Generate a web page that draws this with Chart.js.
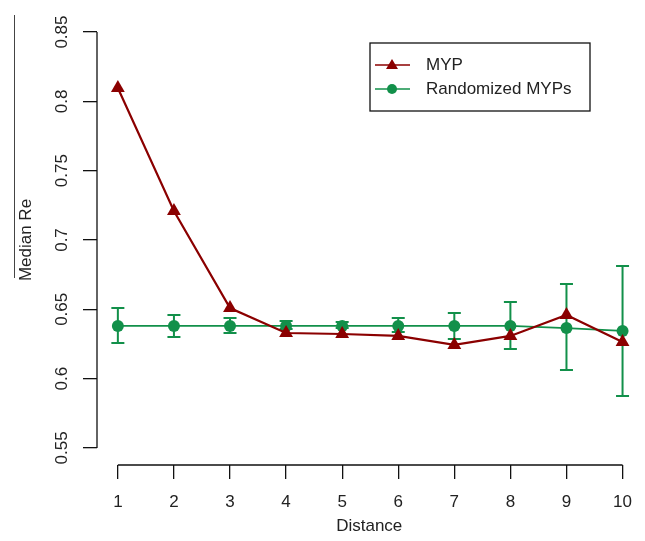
<!DOCTYPE html>
<html>
<head>
<meta charset="utf-8">
<script src="https://cdn.jsdelivr.net/npm/chart.js@4"></script>
<style>
  body { margin: 0; background: #fff; }
  #wrap { width: 645px; height: 541px; }
</style>
</head>
<body>
<div id="wrap"><canvas id="lineChart"></canvas></div>
<script>
const distances = [1, 2, 3, 4, 5, 6, 7, 8, 9, 10];
const yTicks = [0.55, 0.6, 0.65, 0.7, 0.75, 0.8, 0.85];
const yTickLabels = ['0.55', '0.6', '0.65', '0.7', '0.75', '0.8', '0.85'];

const mypValues = [0.8096, 0.7209, 0.6509, 0.6329, 0.6322, 0.6308, 0.6243, 0.6308, 0.6459, 0.6264];
const randValues = [0.638, 0.638, 0.638, 0.638, 0.638, 0.638, 0.638, 0.638, 0.6365, 0.6344];
const randLow = [0.6257, 0.630, 0.6329, 0.6358, 0.6365, 0.6337, 0.6286, 0.6214, 0.6062, 0.5875];
const randHigh = [0.651, 0.6459, 0.6437, 0.6416, 0.6408, 0.6437, 0.6473, 0.6553, 0.6682, 0.6812];

const red = '#8b0000';
const green = '#12904a';
const font = '"Liberation Sans", Arial, sans-serif';

// error bars for the randomized series
const errorBars = {
    id: 'errorBars',
    beforeDatasetsDraw(chart) {
        const { ctx, scales: { x, y } } = chart;
        ctx.save();
        ctx.strokeStyle = green;
        ctx.lineWidth = 2;
        distances.forEach((d, i) => {
            const px = x.getPixelForValue(d);
            const top = y.getPixelForValue(randHigh[i]);
            const bot = y.getPixelForValue(randLow[i]);
            ctx.beginPath();
            ctx.moveTo(px, top); ctx.lineTo(px, bot);
            ctx.moveTo(px - 6.5, top); ctx.lineTo(px + 6.5, top);
            ctx.moveTo(px - 6.5, bot); ctx.lineTo(px + 6.5, bot);
            ctx.stroke();
        });
        ctx.restore();
    }
};

// R style axes, rotated y labels, y title and legend box
const rStyle = {
    id: 'rStyle',
    afterDraw(chart) {
        const { ctx, scales: { x, y }, chartArea } = chart;
        ctx.save();
        ctx.strokeStyle = '#111';
        ctx.lineWidth = 1.3;
        ctx.beginPath();
        ctx.moveTo(chartArea.left, y.getPixelForValue(yTicks[0]));
        ctx.lineTo(chartArea.left, y.getPixelForValue(yTicks[yTicks.length - 1]));
        ctx.moveTo(x.getPixelForValue(distances[0]), chartArea.bottom);
        ctx.lineTo(x.getPixelForValue(distances[distances.length - 1]), chartArea.bottom);
        ctx.stroke();

        ctx.fillStyle = '#222';
        ctx.font = '17px ' + font;
        ctx.textAlign = 'center';
        ctx.textBaseline = 'middle';
        yTicks.forEach((v, i) => {
            ctx.save();
            ctx.translate(62, y.getPixelForValue(v));
            ctx.rotate(-Math.PI / 2);
            ctx.fillText(yTickLabels[i], 0, 0);
            ctx.restore();
        });

        // y title with its overline
        ctx.save();
        ctx.translate(26, (chartArea.top + chartArea.bottom) / 2);
        ctx.rotate(-Math.PI / 2);
        ctx.fillText('Median Re', 0, 0);
        ctx.restore();
        ctx.strokeStyle = '#444';
        ctx.lineWidth = 1;
        ctx.beginPath();
        ctx.moveTo(14.5, 15);
        ctx.lineTo(14.5, 278);
        ctx.stroke();

        // legend
        const lx = 370, ly = 43, lw = 220, lh = 68;
        ctx.strokeStyle = '#111';
        ctx.lineWidth = 1.3;
        ctx.strokeRect(lx, ly, lw, lh);
        const rows = [
            { ds: chart.data.datasets[0], yy: 65 },
            { ds: chart.data.datasets[1], yy: 89 }
        ];
        rows.forEach(r => {
            ctx.strokeStyle = r.ds.borderColor;
            ctx.lineWidth = 1.5;
            ctx.beginPath();
            ctx.moveTo(375, r.yy); ctx.lineTo(410, r.yy);
            ctx.stroke();
            ctx.fillStyle = r.ds.borderColor;
            ctx.beginPath();
            if (r.ds.pointStyle === 'triangle') {
                ctx.moveTo(392, r.yy - 6);
                ctx.lineTo(398, r.yy + 4);
                ctx.lineTo(386, r.yy + 4);
                ctx.closePath();
            } else {
                ctx.arc(392, r.yy, 5, 0, Math.PI * 2);
            }
            ctx.fill();
            ctx.fillStyle = '#222';
            ctx.textAlign = 'left';
            ctx.fillText(r.ds.label, 426, r.yy);
        });
        ctx.restore();
    }
};

const ctx = document.getElementById('lineChart').getContext('2d');

const lineChart = new Chart(ctx, {
    type: 'line',
    data: {
        datasets: [{
            label: 'MYP',
            data: distances.map((d, i) => ({ x: d, y: mypValues[i] })),
            borderColor: red,
            backgroundColor: red,
            borderWidth: 2.2,
            pointStyle: 'triangle',
            pointRadius: 8,
            pointBorderWidth: 0,
            tension: 0
        }, {
            label: 'Randomized MYPs',
            data: distances.map((d, i) => ({ x: d, y: randValues[i] })),
            borderColor: green,
            backgroundColor: green,
            borderWidth: 1.8,
            pointStyle: 'circle',
            pointRadius: 6,
            pointBorderWidth: 0,
            tension: 0
        }]
    },
    options: {
        responsive: true,
        maintainAspectRatio: false,
        animation: false,
        layout: { autoPadding: false, padding: { top: 15, right: 0, left: 0, bottom: 0 } },
        plugins: {
            legend: { display: false },
            tooltip: { enabled: false }
        },
        scales: {
            x: {
                type: 'linear',
                bounds: 'data',
                min: 0.628,
                max: 10.337,
                afterBuildTicks: s => { s.ticks = distances.map(v => ({ value: v })); },
                afterFit: s => { s.height = 76; },
                border: { display: false },
                grid: { drawOnChartArea: false, tickLength: 14, color: '#111', lineWidth: 1.3 },
                ticks: {
                    color: '#222',
                    font: { family: font, size: 17 },
                    padding: 13,
                    maxRotation: 0,
                    callback: v => String(v)
                },
                title: {
                    display: true,
                    text: 'Distance',
                    color: '#222',
                    font: { family: font, size: 17 },
                    padding: { top: 0, bottom: 4 }
                }
            },
            y: {
                bounds: 'data',
                min: 0.5377,
                max: 0.8623,
                afterBuildTicks: s => { s.ticks = yTicks.map(v => ({ value: v })); },
                afterFit: s => { s.width = 97; },
                border: { display: false },
                grid: { drawOnChartArea: false, tickLength: 14, color: '#111', lineWidth: 1.3 },
                ticks: { display: false }
            }
        }
    },
    plugins: [errorBars, rStyle]
});
</script>
</body>
</html>
